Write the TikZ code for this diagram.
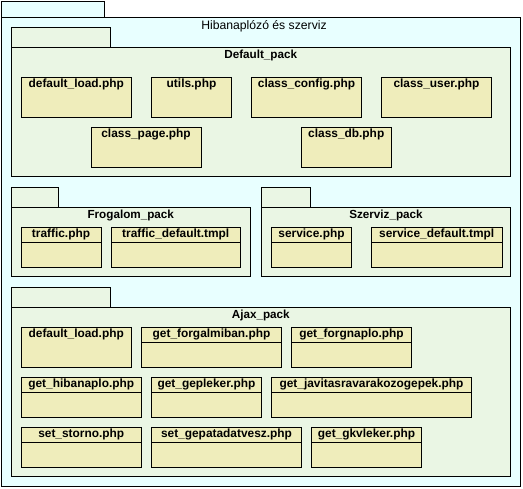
\documentclass[tikz,border=0pt]{standalone}
\usepackage{fontspec}
\setmainfont{Liberation Sans}
\definecolor{outerfill}{RGB}{232,255,255}
\definecolor{packfill}{RGB}{234,246,228}
\definecolor{filefill}{RGB}{239,237,187}
\tikzset{
  outerbox/.style={draw=black, fill=outerfill, line width=0.9pt},
  packbox/.style={draw=black, fill=packfill, line width=0.9pt},
  filebox/.style={draw=black, fill=filefill, line width=0.9pt, anchor=north west, inner sep=0pt, outer sep=0pt},
  ftext/.style={font=\fontsize{11.9}{13}\selectfont\bfseries, inner sep=0pt, anchor=base},
  ptext/.style={font=\fontsize{11.7}{13}\selectfont\bfseries, inner sep=0pt, anchor=base},
  ttext/.style={font=\fontsize{12.2}{14}\selectfont, inner sep=0pt, anchor=base},
  divline/.style={draw=black, line width=0.9pt}
}
% #1 name, #2 x1, #3 y1, #4 x2, #5 y2, #6 text
\newcommand\plainfile[6]{%
  \node[filebox, minimum width={(#4-#2)*1pt}, minimum height={(#5-#3)*1pt}] (#1) at (#2,#3) {};
  \node[ftext] (#1-t) at ({(#2+#4)/2},#3+11) {#6};}
\newcommand\compfile[6]{%
  \node[filebox, minimum width={(#4-#2)*1pt}, minimum height={(#5-#3)*1pt}] (#1) at (#2,#3) {};
  \draw[divline] ([yshift=-15pt]#1.north west) -- ([yshift=-15pt]#1.north east);
  \node[ftext] (#1-t) at ({(#2+#4)/2},#3+10.5) {#6};}
% #1 name, #2 x1, #3 tab top, #4 tab right, #5 body top, #6 x2, #7 y2, #8 style, #9 title
\newcommand\package[9]{%
  \node[#8, anchor=north west, inner sep=0pt, outer sep=0pt, minimum width={(#4-#2)*1pt}, minimum height={(#5-#3)*1pt}] (#1-tab) at (#2,#3) {};
  \node[#8, anchor=north west, inner sep=0pt, outer sep=0pt, minimum width={(#6-#2)*1pt}, minimum height={(#7-#5)*1pt}] (#1) at (#2,#5) {};
  \node[ptext] (#1-t) at ({(#2+#6)/2},#5+11.3) {#9};}
\begin{document}
\begin{tikzpicture}[x=1pt,y=-1pt]
\useasboundingbox (0,0) rectangle (523,489);
% outer package
\node[outerbox, anchor=north west, inner sep=0pt, outer sep=0pt, minimum width=103pt, minimum height=16pt] (outer-tab) at (1,1) {};
\node[outerbox, anchor=north west, inner sep=0pt, outer sep=0pt, minimum width=519pt, minimum height=469pt] (outer) at (1,17) {};
\node[ttext] (outer-t) at (264,29.3) {Hibanaplózó és szerviz};
% Default_pack
\package{def}{11}{27}{110}{47}{510.5}{176}{packbox}{Default\_pack}
\plainfile{d1}{21}{77}{131.5}{117}{default\_load.php}
\plainfile{d2}{151.5}{77}{231.5}{117}{utils.php}
\plainfile{d3}{251.5}{77}{361.5}{117}{class\_config.php}
\plainfile{d4}{381.5}{77}{491.5}{117}{class\_user.php}
\plainfile{d5}{91}{127}{201}{167}{class\_page.php}
\plainfile{d6}{301}{127}{391.5}{167}{class\_db.php}
% Frogalom_pack
\package{frog}{11}{187}{58}{207}{250.5}{276}{packbox}{Frogalom\_pack}
\compfile{f1}{21}{227}{101}{267}{traffic.php}
\compfile{f2}{111}{227}{240.5}{267}{traffic\_default.tmpl}
% Szerviz_pack
\package{szer}{261.5}{187}{310}{207}{510.5}{276}{packbox}{Szerviz\_pack}
\compfile{s1}{271.5}{227}{351.5}{267}{service.php}
\compfile{s2}{371.5}{227}{502}{267}{service\_default.tmpl}
% Ajax_pack
\package{ajax}{11}{287}{110}{307}{510.5}{476.5}{packbox}{Ajax\_pack}
\plainfile{a1}{21}{327}{131.5}{367}{default\_load.php}
\compfile{a2}{141.5}{327}{281.5}{367}{get\_forgalmiban.php}
\compfile{a3}{291.5}{327}{411.5}{367}{get\_forgnaplo.php}
\compfile{a4}{21}{377}{141.5}{417}{get\_hibanaplo.php}
\compfile{a5}{151.5}{377}{261.5}{417}{get\_gepleker.php}
\compfile{a6}{271.5}{377}{471.5}{417}{get\_javitasravarakozogepek.php}
\compfile{a7}{21}{427}{141.5}{467}{set\_storno.php}
\compfile{a8}{151.5}{427}{301.5}{467}{set\_gepatadatvesz.php}
\compfile{a9}{311.5}{427}{421.5}{467}{get\_gkvleker.php}
\end{tikzpicture}
\end{document}
